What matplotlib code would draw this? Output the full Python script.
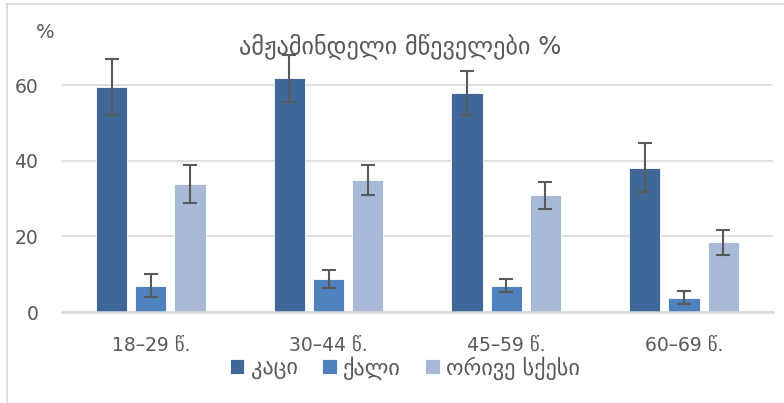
import numpy as np
import matplotlib
matplotlib.use('Agg')
import matplotlib.pyplot as plt
from matplotlib.lines import Line2D

plt.rcParams['font.family'] = ['DejaVu Sans']

# მონაცემები
groups = ['18–29 წ.', '30–44 წ.', '45–59 წ.', '60–69 წ.']
series = ['კაცი', 'ქალი', 'ორივე სქესი']
men = [59.5, 61.8, 57.9, 38.2]
men_err = [7.3, 6.2, 5.7, 6.6]
women = [7.0, 8.7, 7.0, 3.8]
women_err = [3.1, 2.4, 1.8, 1.7]
both = [33.8, 34.9, 30.9, 18.5]
both_err = [5.0, 3.9, 3.6, 3.3]
title = 'ამჟამინდელი მწეველები %'

colors = ['#3F6899', '#4F81BD', '#A9B9D8']
text_c = '#595959'

fig = plt.figure(figsize=(7.84, 4.03), dpi=100)
ax = fig.add_axes([0.0791, 0.2258, 0.9065, 0.657])

x = np.arange(len(groups))
width = 0.176
step = 0.221
vals = [men, women, both]
errs = [men_err, women_err, both_err]
for i in range(3):
    ax.bar(x + (i - 1) * step, vals[i], width=width, color=colors[i],
           edgecolor='white', linewidth=0.6, label=series[i], zorder=2,
           yerr=errs[i], capsize=5,
           error_kw=dict(ecolor=text_c, elinewidth=1.5, capthick=1.5, zorder=3))

ax.set_xlim(-0.5, 3.5)
ax.set_ylim(0, 70)
ax.set_yticks([0, 20, 40, 60])
ax.set_xticks(x)
ax.set_xticklabels(groups)
ax.grid(axis='y', color='#D9D9D9', linewidth=1.2, zorder=0)
for s in ['top', 'right', 'left']:
    ax.spines[s].set_visible(False)
ax.spines['bottom'].set_color('#D9D9D9')
ax.spines['bottom'].set_linewidth(1.8)
ax.tick_params(axis='both', length=0, labelsize=13.5, colors=text_c)
ax.tick_params(axis='y', pad=17)
ax.tick_params(axis='x', pad=17)

fig.text(45 / 784, 1 - 32 / 403, '%', ha='center', va='center',
         fontsize=14, color=text_c)
fig.text(400 / 784, 1 - 46 / 403, title, ha='center', va='center',
         fontsize=17.5, color=text_c)

fig.legend(loc='center', bbox_to_anchor=(405 / 784, 1 - 368 / 403),
           ncol=3, frameon=False, fontsize=16, labelcolor=text_c,
           handlelength=0.65, handleheight=0.65, handletextpad=0.3,
           columnspacing=1.1)

# ჩარჩო
fig.add_artist(Line2D([7 / 784, 7 / 784], [0, 1 - 4 / 403],
                      transform=fig.transFigure, color='#D9D9D9', lw=1.2))
fig.add_artist(Line2D([7 / 784, 1], [1 - 4 / 403, 1 - 4 / 403],
                      transform=fig.transFigure, color='#D9D9D9', lw=1.2))

fig.savefig('out.png', dpi=100)
